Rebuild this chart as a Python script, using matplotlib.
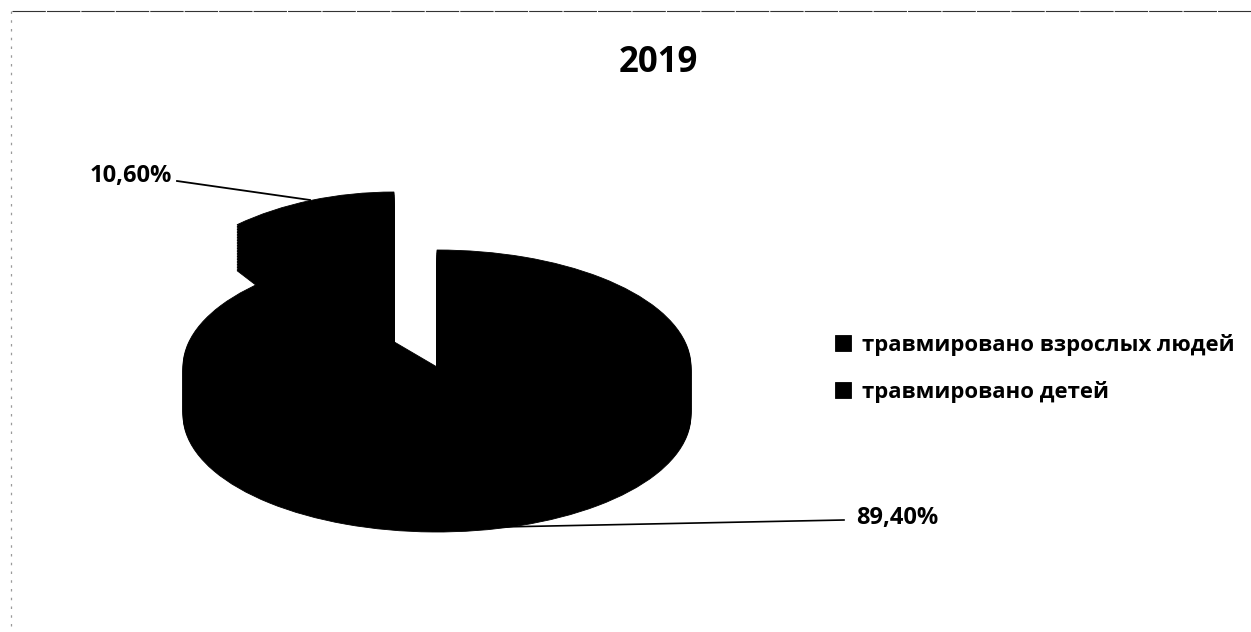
import numpy as np
import matplotlib.pyplot as plt

plt.rcParams['font.family'] = ['Open Sans', 'DejaVu Sans']

W = 1251
H = 632

title = '2019'
categories = ['травмировано взрослых людей', 'травмировано детей']
values = [89.4, 10.6]
labels = [f'{v:.2f}%'.replace('.', ',') for v in values]


def pieAxes(fig, cx, cy, rx, ry):
    # axes over the whole figure, one data unit = rx by ry pixels around (cx,cy)
    ax = fig.add_axes([0, 0, 1, 1])
    ax.patch.set_alpha(0)
    return ax, ((-cx / rx, (W - cx) / rx), (-(H - cy) / ry, cy / ry))


def drawSlice(fig, which, cx, cy, rx, ry, depth):
    ax, (xlim, ylim) = pieAxes(fig, cx, cy, rx, ry)
    first = None
    # stack of pies going down gives the 3d side
    for d in np.linspace(depth / ry, 0, 30):
        wedges, _ = ax.pie(values, startangle=90, counterclock=False,
                           colors=['black', 'black'], center=(0, -d),
                           wedgeprops={'linewidth': 0.6, 'edgecolor': 'black'})
        wedges[1 - which].set_visible(False)
        first = wedges[which]
    ax.set_aspect('auto')
    ax.set_xlim(xlim)
    ax.set_ylim(ylim)
    ax.axis('off')
    return first


fig = plt.figure(figsize=(W / 100, H / 100), dpi=100, facecolor='white')

wedgeBig = drawSlice(fig, 0, 437, 367, 254, 117, 48)
wedgeSmall = drawSlice(fig, 1, 394, 345, 254, 153, 46)

ov = fig.add_axes([0, 0, 1, 1])
ov.patch.set_alpha(0)
ov.set_xlim(0, W)
ov.set_ylim(H, 0)
ov.axis('off')

# scanned chart border, only top and left survive
ov.plot([12, W], [11, 11], color='#333333', lw=0.8, ls=(0, (30, 1)))
ov.plot([11, 11], [11, H], color='#999999', lw=0.9, ls=(0, (2, 5)))

ov.text(658, 63, title, fontsize=25, fontweight='bold', ha='center', va='center', color='black')

ov.plot([177, 310], [181, 200], color='black', lw=1.3)
ov.plot([500, 844], [527, 520], color='black', lw=1.2)
ov.text(90, 176, labels[1], fontsize=17, fontweight='bold', ha='left', va='center', color='black')
ov.text(856, 518, labels[0], fontsize=17, fontweight='bold', ha='left', va='center', color='black')

leg = ov.legend([wedgeBig, wedgeSmall], categories, loc='upper left',
                bbox_to_anchor=(828 / W, 1 - 327 / H), frameon=False,
                prop={'size': 15.9, 'weight': 'bold'}, labelspacing=1.14,
                handlelength=0.72, handleheight=0.72, handletextpad=0.5,
                borderpad=0.3, borderaxespad=0)

fig.savefig('out.png', dpi=100, facecolor='white')
